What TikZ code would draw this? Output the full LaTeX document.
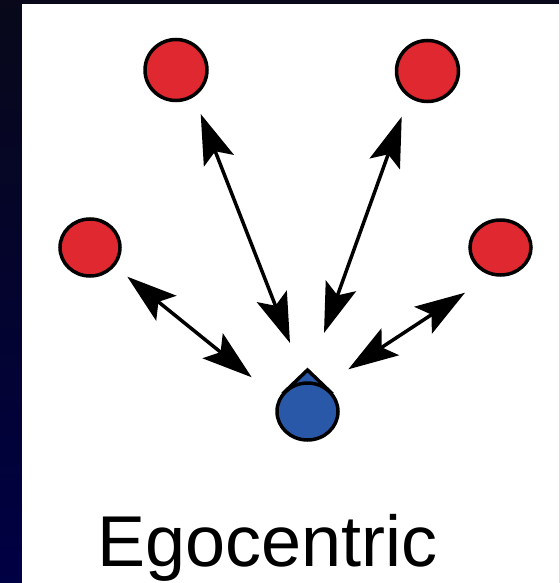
\documentclass[tikz,border=0pt]{standalone}
\usepackage{fontspec}
\setmainfont{Liberation Sans}
\usetikzlibrary{arrows.meta,shapes.geometric}
\definecolor{dotred}{RGB}{224,40,48}
\definecolor{egoblue}{RGB}{42,88,168}
\definecolor{navytop}{RGB}{8,8,26}
\definecolor{navybot}{RGB}{0,0,68}
\begin{document}
\begin{tikzpicture}[x=1pt,y=-1pt,
  target/.style={ellipse,draw=black,line width=3.5pt,fill=dotred,inner sep=0pt},
  self/.style={draw=black,line width=3.5pt,fill=egoblue},
  bighead/.tip={Stealth[length=50pt,width=32pt,inset=10pt]},
  link/.style={line width=3.5pt,bighead-bighead}]
\useasboundingbox (0,0) rectangle (559,583);
% slide frame
\shade[top color=navytop,bottom color=navybot] (0,0) rectangle (559,583);
\fill[white] (22,4) rectangle (559,583);

% surrounding objects
\node[target,minimum width=62pt,minimum height=61pt] (tl) at (176,70) {};
\node[target,minimum width=62pt,minimum height=61pt] (tr) at (427.5,71) {};
\node[target,minimum width=60pt,minimum height=57pt] (ml) at (90,247.5) {};
\node[target,minimum width=61pt,minimum height=55pt] (mr) at (500.5,247.5) {};

% the observer: a drop pointing up
\coordinate (tip) at (307.5,370);
\path[self,line join=miter] (tip) -- (285.6,391) -- (329.4,391) -- cycle;
\node[self,ellipse,inner sep=0pt,minimum width=61pt,minimum height=57pt] (ego) at (307.5,411.5) {};

% arrow ends
\coordinate (tlA) at (200.7,114);   \coordinate (tlB) at (290,343);
\coordinate (trA) at (401.7,116.7); \coordinate (trB) at (324,333);
\coordinate (mlA) at (127.3,276.7); \coordinate (mlB) at (251.7,377.3);
\coordinate (mrA) at (465,292.7);   \coordinate (mrB) at (348.3,369.3);

\draw[link] (tlA) -- (tlB);
\draw[link] (trA) -- (trB);
\draw[link] (mlA) -- (mlB);
\draw[link] (mrA) -- (mrB);

\node[anchor=base,font=\fontsize{72}{86}\selectfont,inner sep=0pt] (label) at (267.5,566) {Egocentric};
\end{tikzpicture}
\end{document}
